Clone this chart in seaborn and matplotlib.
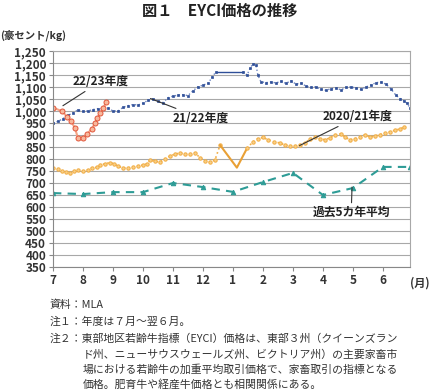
import pandas as pd
import seaborn as sns
import matplotlib.pyplot as plt

sns.set_style("ticks")
plt.rcParams['font.family'] = ['Noto Sans CJK JP', 'DejaVu Sans']

month_labels = ["7", "8", "9", "10", "11", "12", "1", "2", "3", "4", "5", "6"]

# 2021/22年度 (weekly, months since July)
fy2122_x = [0.00, 0.17, 0.33, 0.50, 0.67, 0.83, 1.00, 1.17, 1.33, 1.50, 1.67, 1.83,
            2.00, 2.17, 2.33, 2.50, 2.67, 2.83, 3.00, 3.17, 3.33, 3.50, 3.67, 3.83,
            4.00, 4.17, 4.33, 4.50, 4.67, 4.83, 5.00, 5.17, 5.30, 5.43,
            6.33, 6.47, 6.57, 6.67, 6.77, 6.83, 6.93, 7.10, 7.27, 7.43, 7.60, 7.77,
            7.93, 8.10, 8.27, 8.43, 8.60, 8.77, 8.93, 9.10, 9.27, 9.43, 9.60, 9.77,
            9.93, 10.10, 10.27, 10.43, 10.60, 10.77, 10.93, 11.10, 11.27, 11.43,
            11.57, 11.70, 11.80, 11.90]
fy2122_y = [950, 957, 968, 982, 992, 1005, 998, 1000, 1006, 1010, 1010, 1012,
            1000, 1000, 1015, 1022, 1027, 1025, 1032, 1045, 1050, 1040, 1035, 1055,
            1062, 1066, 1068, 1064, 1085, 1100, 1108, 1115, 1140, 1163,
            1163, 1150, 1178, 1197, 1190, 1150, 1122, 1118, 1121, 1117, 1123, 1115,
            1126, 1112, 1116, 1104, 1098, 1101, 1090, 1086, 1093, 1096, 1088, 1098,
            1100, 1096, 1090, 1100, 1108, 1118, 1120, 1112, 1092, 1066,
            1052, 1042, 1033, 1012]
fy2122_gap = 33  # solid line joins point 33 and 34

# 2022/23年度
fy2223_x = [0.00, 0.30, 0.47, 0.60, 0.73, 0.83, 1.00, 1.13, 1.30, 1.40, 1.47, 1.57, 1.67, 1.77]
fy2223_y = [1014, 999, 976, 958, 929, 888, 888, 903, 927, 949, 969, 990, 1011, 1036]

# 2020/21年度
fy2021_x = [0.00, 0.17, 0.30, 0.43, 0.57, 0.70, 0.83, 1.00, 1.17, 1.30, 1.47, 1.57,
            1.73, 1.90, 2.03, 2.17, 2.33, 2.50, 2.67, 2.83, 3.00, 3.13, 3.23, 3.40,
            3.57, 3.73, 3.90, 4.07, 4.23, 4.40, 4.57, 4.73, 4.90, 5.07, 5.23, 5.40,
            5.57, 6.13, 6.47,
            6.67, 6.83, 7.00, 7.17, 7.37, 7.57, 7.73, 7.90, 8.07, 8.23, 8.40, 8.57,
            8.73, 8.90, 9.07, 9.23, 9.40, 9.60, 9.73, 9.90, 10.07, 10.23, 10.40,
            10.57, 10.73, 10.90, 11.07, 11.23, 11.40, 11.57, 11.70]
fy2021_y = [763, 758, 750, 745, 742, 750, 755, 750, 755, 763, 765, 775,
            780, 785, 780, 770, 763, 763, 767, 770, 775, 780, 796, 790,
            788, 800, 813, 820, 825, 820, 822, 825, 806, 792, 788, 796,
            858, 764, 845,
            872, 885, 890, 880, 871, 867, 858, 854, 854, 860, 867, 883,
            892, 885, 880, 888, 900, 905, 892, 880, 885, 892, 900,
            892, 896, 902, 908, 913, 920, 925, 933]
fy2021_v = 36  # solid line over points 36..38

# 過去5カ年平均 (monthly)
avg5_x = [0, 1, 2, 3, 4, 5, 6, 7, 8, 9, 10, 11, 11.9]
avg5_y = [658, 654, 662, 662, 700, 683, 663, 704, 742, 650, 679, 767, 767]

fig = plt.figure(figsize=(4.3, 3.91), dpi=100)
ax = fig.add_axes([0.1233, 0.3171, 0.830, 0.5525])


def piece(x, y, a, b, **kw):
    df = pd.DataFrame({"month": x[a:b], "value": y[a:b]})
    sns.lineplot(data=df, x="month", y="value", ax=ax, sort=False, **kw)


navy = "#2F4F98"
blue_kw = dict(color="#6F86C0", lw=1.0, ls=":", marker="s", ms=2.0, mec=navy, mfc=navy, mew=0.5)
piece(fy2122_x, fy2122_y, 0, fy2122_gap + 1, **blue_kw)
piece(fy2122_x, fy2122_y, fy2122_gap, fy2122_gap + 2, color=navy, lw=1.0)
piece(fy2122_x, fy2122_y, fy2122_gap + 1, None, **blue_kw)

orange = "#F2AE45"
or_kw = dict(color=orange, lw=1.2, ls=":", marker="o", ms=2.4, mec=orange, mfc="#F8D08A")
piece(fy2021_x, fy2021_y, 0, fy2021_v + 1, **or_kw)
piece(fy2021_x, fy2021_y, fy2021_v, fy2021_v + 3, color="#E9A035", lw=1.5)
piece(fy2021_x, fy2021_y, fy2021_v + 2, None, **or_kw)

teal = "#2E9C96"
piece(avg5_x, avg5_y, 0, None, color=teal, lw=1.5, ls=(0, (4, 3)),
      marker="^", ms=3.2, mec=teal, mfc=teal)

piece(fy2223_x, fy2223_y, 0, None, color="#F4A486", lw=1.5, marker="o", ms=3.6,
      mec="#E2553A", mfc="#F7B89C", mew=0.7)

ax.set_xlim(0, 11.9)
ax.set_ylim(350, 1250)
ax.set_xticks(range(12))
ax.set_xticklabels(month_labels)
yt = list(range(350, 1251, 50))
ax.set_yticks(yt)
ax.set_yticklabels([f"{v:,}" for v in yt])
ax.set_xlabel("")
ax.set_ylabel("")
ax.grid(axis="y", color="#A8A8A8", lw=0.8)
ax.set_axisbelow(True)
for s in ["top", "right"]:
    ax.spines[s].set_color("#A8A8A8")
    ax.spines[s].set_linewidth(0.8)
ax.spines["left"].set_color("#888888")
ax.spines["bottom"].set_color("#888888")
ax.tick_params(axis="both", labelsize=8.5, length=3, width=0.8, color="#888888",
               labelcolor="#333333", pad=2)
for t in ax.get_xticklabels() + ax.get_yticklabels():
    t.set_fontweight("bold")

lab = dict(fontsize=8.5, fontweight="bold", color="#222222", va="center", ha="left")
line = dict(arrowstyle="-", color="#333333", lw=0.8, shrinkA=0, shrinkB=0)
ax.annotate("22/23年度", xy=(0.33, 1022), xytext=(0.64, 1122), arrowprops=line, **lab)
ax.annotate("21/22年度", xy=(3.25, 1052), xytext=(4.0, 970), arrowprops=line, **lab)
ax.annotate("2020/21年度", xy=(8.22, 856), xytext=(9.0, 976), arrowprops=line, **lab)
ax.annotate("過去5カ年平均", xy=(9.97, 683), xytext=(8.65, 577), arrowprops=line, **lab)

fig.text(0.51, 0.972, "図１　EYCI価格の推移", ha="center", va="center",
         fontsize=11, fontweight="bold", color="#222222")
fig.text(0.0, 0.91, "(豪セント/kg)", ha="left", va="center", fontsize=7.5,
         fontweight="bold", color="#333333")
fig.text(0.977, 0.276, "(月)", ha="center", va="center", fontsize=8,
         fontweight="bold", color="#333333")

note = dict(fontsize=7.8, color="#333333", va="center", ha="left")
fig.text(0.116, 0.220, "資料：MLA", **note)
fig.text(0.116, 0.177, "注１：年度は７月～翌６月。", **note)
fig.text(0.116, 0.135, "注２：東部地区若齢牛指標（EYCI）価格は、東部３州（クイーンズラン", **note)
fig.text(0.193, 0.094, "ド州、ニューサウスウェールズ州、ビクトリア州）の主要家畜市", **note)
fig.text(0.193, 0.054, "場における若齢牛の加重平均取引価格で、家畜取引の指標となる", **note)
fig.text(0.193, 0.016, "価格。肥育牛や経産牛価格とも相関関係にある。", **note)

fig.savefig("out.png", dpi=100)
